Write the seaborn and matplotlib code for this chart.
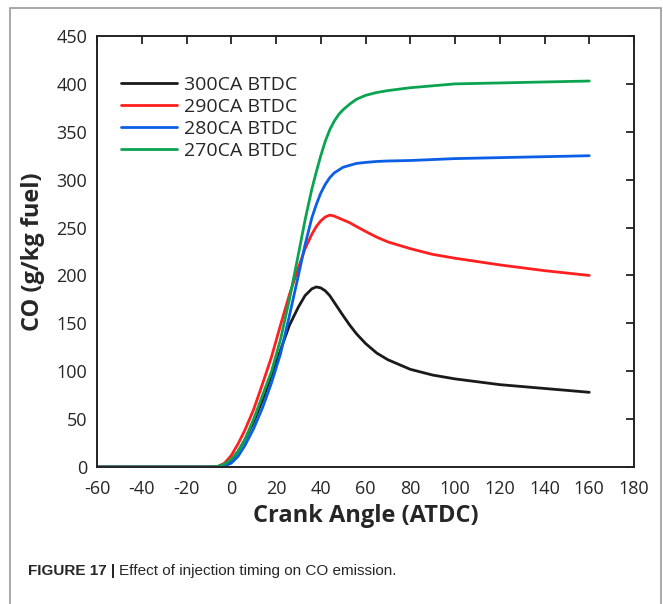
import numpy as np
import pandas as pd
import matplotlib.pyplot as plt
import matplotlib.patches as mpatches
import seaborn as sns

# crank angle samples (ATDC) and CO values
angle = [-60, -40, -20, -10, -6, -3, 0, 3, 6, 10, 14, 18, 22, 26, 30, 33, 36, 38,
         40, 42, 44, 46, 48, 50, 53, 56, 60, 65, 70, 80, 90, 100, 120, 140, 160]

co_300 = [0, 0, 0, 0, 0.5, 3, 7, 16, 28, 47, 70, 96, 122, 148, 167, 179, 186, 188,
          187, 184, 179, 172, 165, 158, 148, 139, 129, 119, 112, 102, 96, 92, 86, 82, 78]
co_290 = [0, 0, 0, 0, 0.5, 4, 12, 24, 38, 60, 87, 115, 148, 180, 208, 228, 243, 251,
          257, 261, 263, 262, 260, 258, 255, 251, 246, 240, 235, 228, 222, 218, 211, 205, 200]
co_280 = [0, 0, 0, 0, 0, 1, 4, 11, 22, 40, 62, 88, 118, 158, 200, 232, 260, 274,
          286, 295, 302, 307, 310, 313, 315, 317, 318, 319, 319.5, 320, 321, 322, 323, 324, 325]
co_270 = [0, 0, 0, 0, 0.5, 3, 8, 16, 28, 50, 75, 100, 133, 175, 222, 258, 290, 308,
          325, 340, 352, 361, 368, 373, 379, 384, 388, 391, 393, 396, 398, 400, 401, 402, 403]

labels = ['300CA BTDC', '290CA BTDC', '280CA BTDC', '270CA BTDC']
colors = ['#1a1a1a', '#ff1f1f', '#0a5fe6', '#0aa450']

df = pd.concat([
    pd.DataFrame({'angle': angle, 'co': vals, 'timing': lab})
    for lab, vals in zip(labels, [co_300, co_290, co_280, co_270])
])

sns.set_style('white')
plt.rcParams['font.family'] = ['Open Sans', 'DejaVu Sans']
plt.rcParams['axes.unicode_minus'] = False

fig = plt.figure(figsize=(6.63, 6.04), dpi=100)
ax = fig.add_axes([97 / 663, 137 / 604, 537 / 663, 431 / 604])

sns.lineplot(data=df, x='angle', y='co', hue='timing', hue_order=labels,
             palette=colors, linewidth=2, ax=ax)

ax.set_xlim(-60, 180)
ax.set_ylim(0, 450)
ax.set_xticks(np.arange(-60, 181, 20))
ax.set_yticks(np.arange(0, 451, 50))
ax.tick_params(direction='in', length=6, width=1.3, top=True, right=True,
               labelsize=13, color='#222222')
ax.tick_params(axis='x', pad=9)
ax.tick_params(axis='y', pad=7)
for s in ax.spines.values():
    s.set_linewidth(1.4)
    s.set_color('#222222')

ax.set_xlabel('Crank Angle (ATDC)', fontsize=17, fontweight='bold', labelpad=5)
ax.set_ylabel('CO (g/kg fuel)', fontsize=17, fontweight='bold', labelpad=8)

ax.legend(loc='upper left', bbox_to_anchor=(0.03, 0.925), frameon=False,
          fontsize=14, handlelength=2.9, handletextpad=0.35, labelspacing=0.2,
          borderaxespad=0)

# grey border of the figure panel
fig.patches.append(mpatches.Rectangle((10 / 663, -0.02), 652 / 663 - 0.001, 1.02 - 8 / 604,
                                      transform=fig.transFigure, fill=False,
                                      edgecolor='#9a9a9a', linewidth=1.2))

fig.text(28 / 663, 1 - 571 / 604, 'FIGURE 17 |', fontsize=11, fontweight='bold',
         family=['Liberation Sans'], va='center', ha='left')
fig.text(119 / 663, 1 - 571 / 604, 'Effect of injection timing on CO emission.',
         fontsize=11, family=['Liberation Sans'], va='center', ha='left')

fig.savefig('out.png', dpi=100)
